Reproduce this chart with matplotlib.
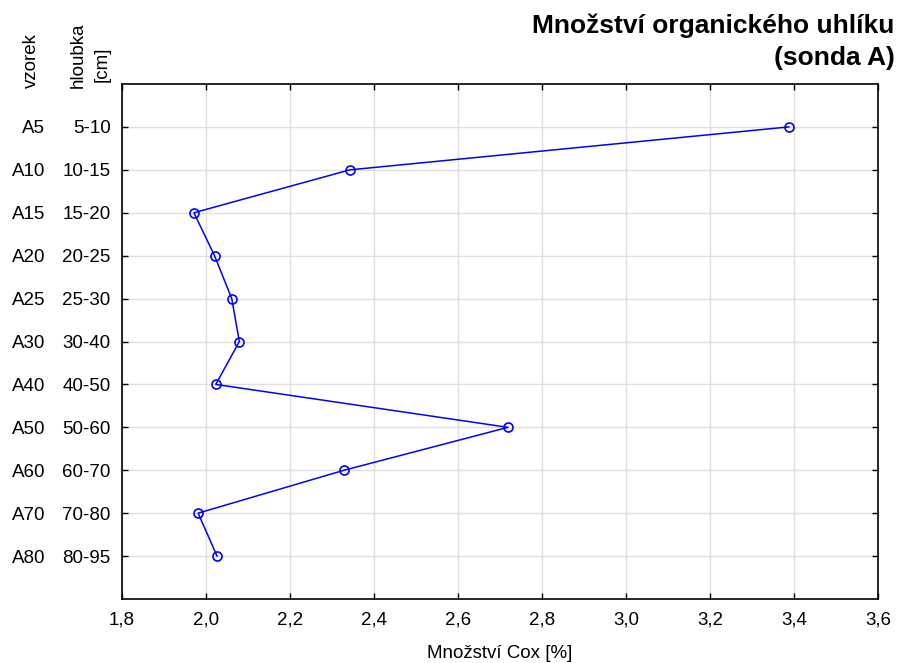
import matplotlib
matplotlib.use("Agg")
import matplotlib.pyplot as plt
from matplotlib.ticker import FixedLocator, FuncFormatter

plt.rcParams['font.family'] = ['Liberation Sans', 'DejaVu Sans']

samples = ["A5", "A10", "A15", "A20", "A25", "A30", "A40", "A50", "A60", "A70", "A80"]
depths = ["5-10", "10-15", "15-20", "20-25", "25-30", "30-40", "40-50", "50-60", "60-70", "70-80", "80-95"]
cox = [3.387, 2.343, 1.972, 2.021, 2.062, 2.080, 2.024, 2.719, 2.329, 1.982, 2.027]
xticks = [1.8, 2.0, 2.2, 2.4, 2.6, 2.8, 3.0, 3.2, 3.4, 3.6]

W, H = 897, 663
fig = plt.figure(figsize=(W / 100, H / 100), dpi=100)
ax = fig.add_axes([121.6 / W, 1 - 599 / H, (878.4 - 121.6) / W, (599 - 84) / H])

pos = list(range(len(samples)))
ax.plot(cox, pos, color='#0000ff', lw=1.1, marker='o', ms=6.5,
        mfc='none', mec='#0000ff', mew=1.2, zorder=3)

ax.set_xlim(1.8, 3.6)
ax.set_ylim(len(samples), -1)
ax.xaxis.set_major_locator(FixedLocator(xticks))
ax.xaxis.set_major_formatter(FuncFormatter(lambda v, p: f"{v:.1f}".replace(".", ",")))
ax.set_yticks(pos)
ax.set_yticklabels(depths)
for lbl in ax.get_yticklabels():
    lbl.set_va('center_baseline')

ax.grid(True, color='#e0e0e0', lw=1.0, zorder=0)
ax.set_axisbelow(True)
ax.tick_params(direction='in', length=4, width=1, top=True, right=True,
               labelsize=13.5, colors='black')
ax.tick_params(axis='y', pad=8)
ax.tick_params(axis='x', pad=9)
for s in ax.spines.values():
    s.set_linewidth(1.2)

# sample codes in a second label column
trans = ax.get_yaxis_transform()
for p, s in zip(pos, samples):
    ax.text((45 - 121.6) / (878.4 - 121.6), p, s, transform=trans,
            ha='right', va='center_baseline', fontsize=13.5, clip_on=False)

ax.set_xlabel("Množství Cox [%]", fontsize=13.5, labelpad=12)

# column headers
fig.text(31 / W, 1 - 88 / H, "vzorek", rotation=90, ha='center', va='bottom', fontsize=13.5)
fig.text(78 / W, 1 - 88 / H, "hloubka", rotation=90, ha='center', va='bottom', fontsize=13.5)
fig.text(102 / W, 1 - 82 / H, "[cm]", rotation=90, ha='center', va='bottom', fontsize=13.5)

# title
fig.text(894 / W, 1 - 33 / H, "Množství organického uhlíku", ha='right', va='baseline',
         fontsize=19, fontweight='bold')
fig.text(895 / W, 1 - 65 / H, "(sonda A)", ha='right', va='baseline',
         fontsize=19, fontweight='bold')

fig.savefig("out.png", dpi=100)
